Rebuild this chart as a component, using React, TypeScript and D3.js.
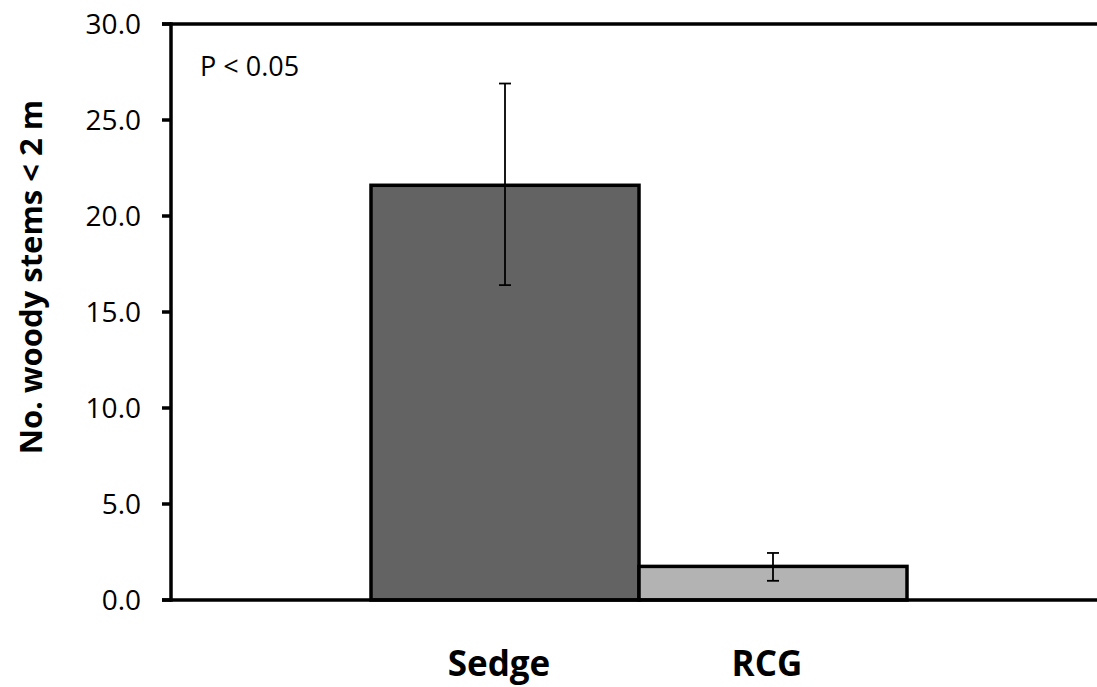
import React, { useEffect, useRef } from 'react';
import * as d3 from 'd3';

// values
const categories = ['Sedge', 'RCG'];
const means = [21.6, 1.75];
const errLow = [16.4, 1.0];
const errHigh = [26.9, 2.45];
const barColours = ['#636363', '#b3b3b3'];
const yTicks = [0, 5, 10, 15, 20, 25, 30];

const width = 1097;
const height = 687;
const font = '"Open Sans", "Liberation Sans", sans-serif';

export default function App() {
  const svgRef = useRef<SVGSVGElement>(null);

  useEffect(() => {
    document.body.style.margin = '0';
    const svg = d3.select(svgRef.current);
    svg.selectAll('*').remove();

    const left = 171, top = 24, bottom = 600;
    const y = d3.scaleLinear().domain([0, 30]).range([bottom, top]);
    const x = d3.scaleBand().domain(categories).range([371, 907]).padding(0);

    // bars
    svg.selectAll('rect.bar')
      .data(categories)
      .enter()
      .append('rect')
      .attr('class', 'bar')
      .attr('x', d => x(d)!)
      .attr('y', (d, i) => y(means[i]))
      .attr('width', x.bandwidth())
      .attr('height', (d, i) => y(0) - y(means[i]))
      .style('fill', (d, i) => barColours[i])
      .style('stroke', '#000')
      .style('stroke-width', 3.5);

    // error bars
    const eb = svg.selectAll('g.err')
      .data(categories)
      .enter()
      .append('g')
      .attr('class', 'err')
      .attr('transform', d => `translate(${x(d)! + x.bandwidth() / 2},0)`);
    eb.append('line')
      .attr('y1', (d, i) => y(errLow[i]))
      .attr('y2', (d, i) => y(errHigh[i]))
      .style('stroke', '#000').style('stroke-width', 1.8);
    eb.append('line')
      .attr('x1', -6).attr('x2', 6)
      .attr('y1', (d, i) => y(errHigh[i])).attr('y2', (d, i) => y(errHigh[i]))
      .style('stroke', '#000').style('stroke-width', 1.8);
    eb.append('line')
      .attr('x1', -6).attr('x2', 6)
      .attr('y1', (d, i) => y(errLow[i])).attr('y2', (d, i) => y(errLow[i]))
      .style('stroke', '#000').style('stroke-width', 1.8);

    // axes frame
    svg.append('line')
      .attr('x1', left).attr('x2', left).attr('y1', top - 1.75).attr('y2', bottom + 1.75)
      .style('stroke', '#000').style('stroke-width', 3.5);
    svg.append('line')
      .attr('x1', left - 9).attr('x2', width).attr('y1', y(30)).attr('y2', y(30))
      .style('stroke', '#000').style('stroke-width', 3.5);
    svg.append('line')
      .attr('x1', left - 9).attr('x2', width).attr('y1', y(0)).attr('y2', y(0))
      .style('stroke', '#000').style('stroke-width', 3.5);

    // y ticks
    const t = svg.selectAll('g.tick')
      .data(yTicks)
      .enter()
      .append('g')
      .attr('class', 'tick')
      .attr('transform', d => `translate(0,${y(d)})`);
    t.append('line')
      .attr('x1', left - 9).attr('x2', left)
      .style('stroke', '#000').style('stroke-width', 3.5);
    t.append('text')
      .attr('x', 141)
      .attr('dy', '0.36em')
      .attr('text-anchor', 'end')
      .style('font-family', font)
      .style('font-size', '28px')
      .text(d => d.toFixed(1));

    // category labels
    svg.selectAll('text.cat')
      .data(categories)
      .enter()
      .append('text')
      .attr('class', 'cat')
      .attr('x', d => x(d)! + x.bandwidth() / 2 - 6)
      .attr('y', 676)
      .attr('text-anchor', 'middle')
      .style('font-family', font)
      .style('font-size', '35px')
      .style('font-weight', 'bold')
      .text(d => d);

    // y label
    svg.append('text')
      .attr('transform', 'translate(42,277) rotate(-90)')
      .attr('text-anchor', 'middle')
      .style('font-family', font)
      .style('font-size', '31px')
      .style('font-weight', 'bold')
      .text('No. woody stems < 2 m');

    // annotation
    svg.append('text')
      .attr('x', 200)
      .attr('y', 76)
      .style('font-family', font)
      .style('font-size', '27px')
      .text('P < 0.05');
  }, []);

  return <svg ref={svgRef} width={width} height={height} style={{ display: 'block', background: '#fff' }} />;
}
